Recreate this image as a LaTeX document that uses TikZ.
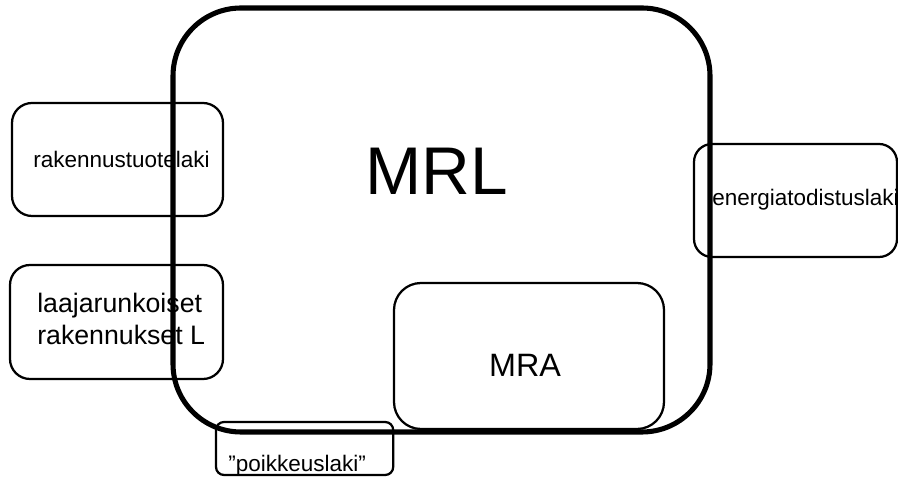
\documentclass[tikz,border=0pt]{standalone}
\usepackage{fontspec}
\setmainfont{Liberation Sans}
\usepackage{tikz}

\begin{document}
\begin{tikzpicture}[
        lawbox/.style={line width=1.6pt},
        lawtext/.style={inner sep=0pt, font=\fontsize{16}{19}\selectfont}
    ]
        \useasboundingbox (0,0) rectangle (22.45,11.925);

        % Draw the boxes outside MRL
        \draw[lawbox, rounded corners=0.5cm] (0.3,6.525) rectangle (5.575,9.35); % rakennustuotelaki
        \node[lawtext] (rakennus) at (3.04,7.93) {rakennustuotelaki};

        \draw[lawbox, rounded corners=0.5cm] (0.25,2.45) rectangle (5.575,5.3); % laajarunkoiset
        \node[inner sep=0pt, anchor=west, align=left, font=\fontsize{19}{22.8}\selectfont] (laaja) at (0.925,3.94) {laajarunkoiset\\rakennukset L};

        \draw[lawbox, rounded corners=0.45cm] (17.35,5.5) rectangle (22.425,8.325); % energiatodistuslaki
        \node[lawtext, anchor=west] (energia) at (17.8,6.925) {energiatodistuslaki};

        \draw[lawbox, rounded corners=0.2cm] (5.4,0.05) rectangle (9.83,1.375); % poikkeuslaki
        \node[lawtext, anchor=base west] (poikkeus) at (5.7,0.125) {”poikkeuslaki”};

        % Draw MRA inside
        \draw[lawbox, rounded corners=0.675cm] (9.85,1.2) rectangle (16.6,4.85);
        \node[inner sep=0pt, font=\fontsize{23}{27}\selectfont] (mra) at (13.125,2.8) {MRA};

        % Draw the MRL frame
        \node[inner sep=0pt, font=\fontsize{48}{56}\selectfont] (mrl) at (10.925,7.65) {MRL};
        \draw[line width=3.6pt, rounded corners=1.7cm] (4.325,1.125) rectangle (17.75,11.725); % MRL

    \end{tikzpicture}
\end{document}
